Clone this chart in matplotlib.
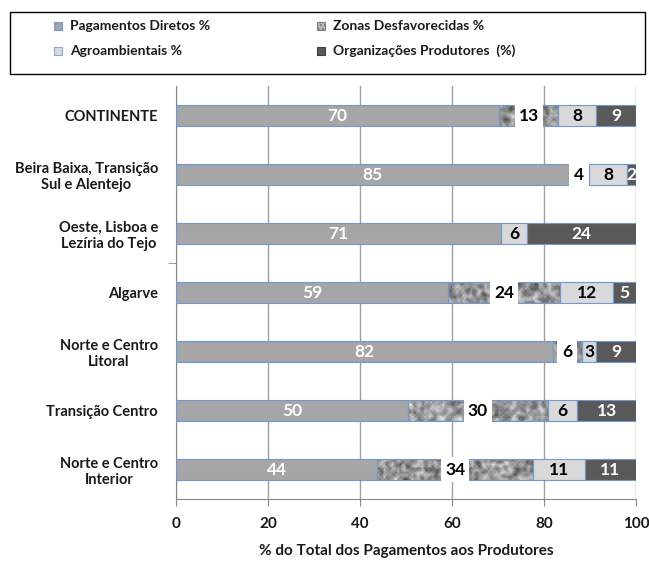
import numpy as np
import matplotlib
matplotlib.use("Agg")
import matplotlib.pyplot as plt
from matplotlib.patches import Rectangle

# DATA #######################################################################
regions = ["CONTINENTE",
           "Beira Baixa, Transição\nSul e Alentejo",
           "Oeste, Lisboa e\nLezíria do Tejo",
           "Algarve",
           "Norte e Centro\nLitoral",
           "Transição Centro",
           "Norte e Centro\nInterior"]
pagamentos = [70.2, 85.4, 70.6, 59.1, 82.0, 50.4, 43.8]
zonas = [12.9, 4.4, 0.0, 24.4, 6.2, 30.4, 33.8]
agro = [8.3, 8.2, 5.8, 11.6, 3.2, 6.4, 11.3]
organizacoes = [8.6, 2.0, 23.6, 4.9, 8.6, 12.8, 11.1]
series_names = ["Pagamentos Diretos %", "Zonas Desfavorecidas %",
                "Agroambientais %", "Organizações Produtores  (%)"]
xticks = [0, 20, 40, 60, 80, 100]
xlabel = "% do Total dos Pagamentos aos Produtores"

# STYLE ######################################################################
plt.rcParams["font.family"] = ["Lato", "DejaVu Sans"]
plt.rcParams["font.weight"] = "bold"
txt = "#1a1a1a"
edge = "#6f98cf"
c_pag, c_agro, c_org = "#a6a6a6", "#d9d9d9", "#595959"
bar_h = 0.37
lab_size = 12.5

# mottled grey texture for the "zonas" segments, one sheet over the whole axes
rng = np.random.default_rng(11)
noise = rng.random((200, 230))
noise = (noise + np.roll(noise, 1, 0) + np.roll(noise, 1, 1)
         + np.roll(noise, -1, 0) + np.roll(noise, -1, 1)) / 5
noise = (noise - noise.min()) / (noise.max() - noise.min())

fig = plt.figure(figsize=(6.49, 5.61), dpi=100)
ax = fig.add_axes([176 / 649, 1 - 499 / 561, 460 / 649, 413 / 561])

y = np.arange(len(regions))
left = np.zeros(len(regions))


def seg_labels(values, lefts, color, gap=False):
    for yi, v, l in zip(y, values, lefts):
        if v <= 0:
            continue
        s = f"{v:.0f}"
        if gap:
            # white gap behind the label, full bar height
            w = (20 if len(s) == 1 else 28) / 4.6
            ax.add_patch(Rectangle((l + v / 2 - w / 2, yi - bar_h / 2 - 0.02),
                                   w, bar_h + 0.04, facecolor="white",
                                   edgecolor="none", zorder=5))
        ax.text(l + v / 2, yi, s, color=color, ha="center", va="center",
                fontsize=lab_size, fontweight="bold", zorder=6)


# pagamentos directos
ax.barh(y, pagamentos, height=bar_h, left=left, color=c_pag,
        edgecolor=edge, linewidth=0.8, zorder=3)
seg_labels(pagamentos, left, "white")
left += pagamentos

# zonas desfavorecidas, textured
bars = ax.barh(y, zonas, height=bar_h, left=left, color="none",
               edgecolor=edge, linewidth=0.8, zorder=4)
for v, b in zip(zonas, bars):
    if v <= 0:
        continue
    im = ax.imshow(noise, cmap="gray", vmin=-0.25, vmax=1.0, aspect="auto",
                   extent=(0, 100, len(regions) - 0.5, -0.5),
                   interpolation="bilinear", zorder=3)
    im.set_clip_path(b)
seg_labels(zonas, left, "black", gap=True)
left += zonas

# agroambientais
ax.barh(y, agro, height=bar_h, left=left, color=c_agro,
        edgecolor=edge, linewidth=0.8, zorder=3)
seg_labels(agro, left, "black")
left += agro

# organizacoes de produtores
ax.barh(y, organizacoes, height=bar_h, left=left, color=c_org,
        edgecolor=edge, linewidth=0.8, zorder=3)
seg_labels(organizacoes, left, "white")

# axes
ax.set_xlim(0, 100)
ax.set_ylim(len(regions) - 0.5, -0.5)
ax.set_xticks(xticks)
ax.set_xticklabels([str(t) for t in xticks], fontsize=11, color=txt,
                   fontweight="bold")
ax.set_yticks(y)
ax.set_yticklabels(regions, fontsize=10.5, color=txt, fontweight="bold")
for lab in ax.get_yticklabels():
    lab.set_multialignment("center")
ax.set_yticks([2.5], minor=True)
ax.tick_params(axis="y", which="major", length=0, pad=13)
ax.tick_params(axis="y", which="minor", length=6, color="#888888")
ax.tick_params(axis="x", length=5, color="#888888", pad=8)
ax.grid(axis="x", color="#a0a0a0", linewidth=1, zorder=0)
ax.set_axisbelow(True)
for s in ["top", "right"]:
    ax.spines[s].set_visible(False)
for s in ["left", "bottom"]:
    ax.spines[s].set_color("#888888")
ax.set_xlabel(xlabel, fontsize=11, color=txt, fontweight="bold", labelpad=9)

# legend box drawn in figure pixels
W, H = 649, 561
fig.add_artist(Rectangle((10 / W, 1 - 74 / H), 635 / W, 62 / H,
                         transform=fig.transFigure, fill=False,
                         edgecolor="black", linewidth=1))
entries = [(54, 26, c_pag, edge, series_names[0]),
           (317, 26, "#b8b8b8", "#7f7f7f", series_names[1]),
           (54, 51, c_agro, "#8aa8d0", series_names[2]),
           (317, 51, c_org, "#404040", series_names[3])]
for px, py, fc, ec, name in entries:
    hatch = "...." if name == series_names[1] else None
    fig.add_artist(Rectangle((px / W, 1 - (py + 4) / H), 8 / W, 8 / H,
                             transform=fig.transFigure, facecolor=fc,
                             edgecolor=ec, linewidth=0.8, hatch=hatch))
    fig.text((px + 16) / W, 1 - py / H, name, fontsize=10, color=txt,
             fontweight="bold", va="center", ha="left")

fig.savefig("out.png", dpi=100)
